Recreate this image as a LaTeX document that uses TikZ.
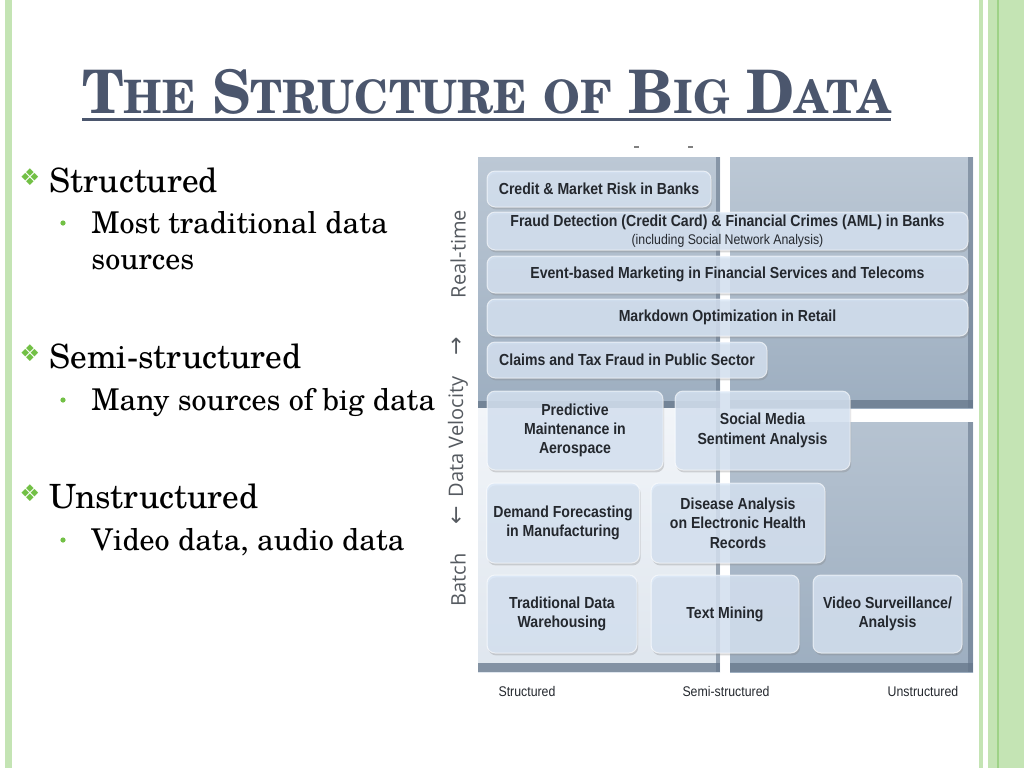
\documentclass[tikz,border=0pt]{standalone}
\usepackage{fontspec}
\setmainfont{TeX Gyre Schola}
\newfontfamily\titlefont[FakeStretch=0.96]{TeX Gyre Schola}
\newfontfamily\chartsf[FakeStretch=0.88]{Liberation Sans}
\newfontfamily\axisfont{Open Sans}
\newfontfamily\symfont{DejaVu Sans}
\usetikzlibrary{shadows}
\definecolor{titleslate}{HTML}{4B566D}
\definecolor{bulletgreen}{HTML}{72C045}
\definecolor{framegreen}{HTML}{C4E4B4}
\definecolor{framedark}{HTML}{9ED287}
\definecolor{boxfill}{HTML}{D9E6F6}
\definecolor{boxtext}{HTML}{24282E}
\definecolor{paneltop}{HTML}{BCC8D5}
\definecolor{panelbot}{HTML}{9DAEC0}
\definecolor{panellight}{HTML}{F2F5F9}
\definecolor{panellightbot}{HTML}{DFE6EE}
\definecolor{paneledge}{HTML}{65768A}
\definecolor{axisgray}{HTML}{555A60}
% fake small caps for the title
\newcommand{\tsc}[2]{{\fontsize{30}{30}\selectfont #1}{\fontsize{23}{24}\selectfont #2}}
\tikzset{
  usebox/.style={rounded corners=4pt, fill=boxfill, fill opacity=0.8, text opacity=1,
    draw=white, draw opacity=0.6, line width=0.5pt, text=boxtext, align=center, inner sep=0pt,
    font=\chartsf\bfseries\fontsize{8}{9.65}\selectfont,
    drop shadow={shadow xshift=0.6pt, shadow yshift=-1.2pt, opacity=0.3}},
  axislabel/.style={rotate=90, text=axisgray, font=\axisfont\fontsize{10}{12}\selectfont, inner sep=0pt},
  axisarrow/.style={rotate=90, text=axisgray, font=\symfont\fontsize{11}{12}\selectfont, inner sep=0pt},
  catlabel/.style={text=boxtext, font=\chartsf\fontsize{7}{8}\selectfont, inner sep=0pt},
  mainitem/.style={anchor=base west, inner sep=0pt, font=\fontsize{16.7}{20}\selectfont},
  subitem/.style={anchor=base west, inner sep=0pt, font=\fontsize{15}{18}\selectfont},
  diabullet/.style={text=bulletgreen, inner sep=0pt, font=\symfont\fontsize{11.5}{12}\selectfont},
  dotbullet/.style={circle, fill=bulletgreen, inner sep=0pt, minimum size=2.6pt}
}
\begin{document}
\begin{tikzpicture}[x=0.5pt,y=-0.5pt]
  \useasboundingbox[fill=white] (0,0) rectangle (1024,768);
  % Slide frame
  \fill[framegreen] (5,0) rectangle (12,768);
  \fill[framegreen] (979,0) rectangle (983,768);
  \fill[framegreen] (988,0) rectangle (1024,768);
  \fill[framedark] (997,0) rectangle (999,768);
  % Title
  \node[anchor=base west, inner sep=0pt, text=titleslate, font=\titlefont\bfseries\fontsize{30}{30}\selectfont] (title) at (82,113)
    {\tsc{T}{HE} \tsc{S}{TRUCTURE} {\fontsize{23}{24}\selectfont OF} \tsc{B}{IG} \tsc{D}{ATA}};
  \draw[titleslate, line width=1.5pt] ([yshift=-3.3pt]title.base west) -- ([yshift=-3.3pt]title.base east);
  % Bullets
  \node[diabullet] (b1) at (30,177) {❖};
  \node[mainitem] (structured) at (49,192) {Structured};
  \node[dotbullet] (d1) at (63,223) {};
  \node[subitem] (most) at (91,233) {Most traditional data};
  \node[subitem] (sources) at (91,269) {sources};
  \node[diabullet] (b2) at (30,353) {❖};
  \node[mainitem] (semi) at (49,368) {Semi-structured};
  \node[dotbullet] (d2) at (63,400) {};
  \node[subitem] (many) at (91,410) {Many sources of big data};
  \node[diabullet] (b3) at (30,493) {❖};
  \node[mainitem] (unstructured) at (49,508) {Unstructured};
  \node[dotbullet] (d3) at (63,540) {};
  \node[subitem] (video) at (91,550) {Video data, audio data};
  % Quadrant panels
  \shade[top color=paneltop, bottom color=panelbot] (478,157) rectangle (720,408);
  \shade[top color=paneltop, bottom color=panelbot] (730,157) rectangle (973,408);
  \shade[top color=panellight, bottom color=panellightbot] (478,408) rectangle (720,672);
  \shade[top color=paneltop!80!panelbot, bottom color=panelbot] (730,422) rectangle (973,672);
  \fill[paneledge, opacity=0.75] (478,401) rectangle (720,408);
  \fill[paneledge, opacity=0.75] (730,400) rectangle (973,408);
  \fill[paneledge, opacity=0.75] (478,663) rectangle (720,672);
  \fill[paneledge, opacity=0.75] (730,663) rectangle (973,672);
  \fill[paneledge, opacity=0.6] (716,157) rectangle (720,672);
  \fill[paneledge, opacity=0.6] (968,157) rectangle (973,408);
  \fill[paneledge, opacity=0.6] (968,422) rectangle (973,672);
  \draw[gray, line width=0.8pt] (634,147) -- (639,147);
  \draw[gray, line width=0.8pt] (688,147) -- (693,147);
  % Use cases
  \node[usebox, minimum width=112pt, minimum height=18pt] (credit) at (599,189) {Credit \& Market Risk in Banks};
  \node[usebox, minimum width=240.5pt, minimum height=19pt] (fraud) at (727.5,231)
    {Fraud Detection (Credit Card) \& Financial Crimes (AML) in Banks\\[-1pt]
     {\mdseries\fontsize{7}{8}\selectfont (including Social Network Analysis)}};
  \node[usebox, minimum width=240.5pt, minimum height=18.5pt] (event) at (727.5,274.5) {Event-based Marketing in Financial Services and Telecoms};
  \node[usebox, minimum width=240.5pt, minimum height=18.5pt] (markdown) at (727.5,317.5) {Markdown Optimization in Retail};
  \node[usebox, minimum width=140pt, minimum height=18pt] (claims) at (627,360) {Claims and Tax Fraud in Public Sector};
  \node[usebox, minimum width=88pt, minimum height=39.5pt] (predictive) at (575,430.5) {Predictive\\Maintenance in\\Aerospace};
  \node[usebox, minimum width=87.5pt, minimum height=39.5pt] (social) at (762.5,430.5) {Social Media\\Sentiment Analysis};
  \node[usebox, minimum width=76.5pt, minimum height=40pt] (demand) at (563,523) {Demand Forecasting\\in Manufacturing};
  \node[usebox, minimum width=87pt, minimum height=40pt] (disease) at (738,523) {Disease Analysis\\on Electronic Health\\Records};
  \node[usebox, minimum width=75pt, minimum height=39pt] (warehouse) at (562,614) {Traditional Data\\Warehousing};
  \node[usebox, minimum width=74pt, minimum height=39pt] (textmining) at (725,614) {Text Mining};
  \node[usebox, minimum width=74.5pt, minimum height=39pt] (surveillance) at (887.5,614) {Video Surveillance/\\Analysis};
  % Axes
  \node[axislabel] (realtime) at (458,254) {Real-time};
  \node[axisarrow] (uparrow) at (458,346) {→};
  \node[axislabel] (velocity) at (458,437) {Data Velocity};
  \node[axisarrow] (downarrow) at (458,515) {←};
  \node[axislabel] (batch) at (458,580) {Batch};
  \node[catlabel] (catstruct) at (527,691) {Structured};
  \node[catlabel] (catsemi) at (726,691) {Semi-structured};
  \node[catlabel] (catunstruct) at (923,691) {Unstructured};
\end{tikzpicture}
\end{document}
